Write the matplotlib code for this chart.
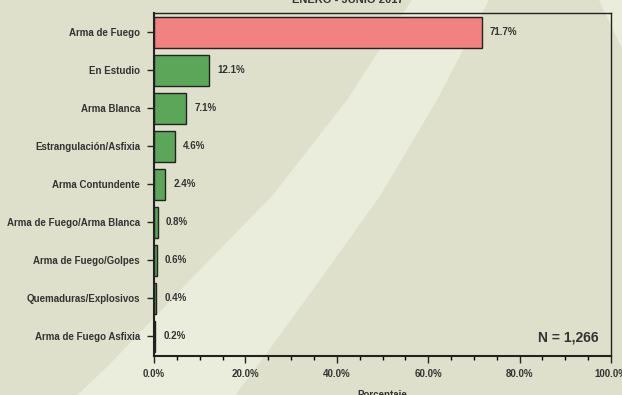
import matplotlib
matplotlib.use("Agg")
import matplotlib.pyplot as plt
from matplotlib.ticker import MultipleLocator, FuncFormatter

# data
categories = ["Arma de Fuego", "En Estudio", "Arma Blanca", "Estrangulación/Asfixia",
              "Arma Contundente", "Arma de Fuego/Arma Blanca", "Arma de Fuego/Golpes",
              "Quemaduras/Explosivos", "Arma de Fuego Asfixia"]
percent = [71.7, 12.1, 7.1, 4.6, 2.4, 0.8, 0.6, 0.4, 0.2]
bar_colors = ["#f28182"] + ["#5ca65a"] * 8
title = "ENERO - JUNIO 2017"
n_text = "N = 1,266"

plt.rcParams["font.family"] = ["Liberation Sans", "DejaVu Sans"]
plt.rcParams["font.weight"] = "bold"
text_color = "#333333"

fig = plt.figure(figsize=(6.22, 3.95), dpi=100, facecolor="#dfe0cc")

# decorative background swooshes (pixel coords of the 622x395 canvas)
bg = fig.add_axes([0, 0, 1, 1], zorder=-1)
bg.set_xlim(0, 622)
bg.set_ylim(395, 0)
bg.axis("off")
band_x = [70, 109, 190, 272, 347, 413, 490, 437, 380, 320, 258, 230]
band_y = [402, 365, 280, 196, 100, -2, -2, 100, 196, 280, 365, 402]
bg.fill(band_x, band_y, color="#eaecdc", lw=0)
bg.fill([598, 625, 625], [-2, -2, 55], color="#eaecdc", lw=0)

ax = fig.add_axes([154 / 622, 1 - 355.5 / 395, 457 / 622, (355.5 - 13.3) / 395])
ax.set_facecolor("none")

ypos = list(range(len(categories)))
ax.barh(ypos, percent, height=0.8, color=bar_colors, edgecolor="#222222", linewidth=1.0)
for y, v in zip(ypos, percent):
    ax.annotate(f"{v:.1f}%", (v, y), xytext=(6, 0), textcoords="offset points",
                va="center", ha="left", fontsize=7, fontweight="bold", color=text_color)

ax.set_xlim(0, 100)
ax.set_ylim(len(categories) - 0.5, -0.5)
ax.set_yticks(ypos)
ax.set_yticklabels(categories)
ax.xaxis.set_major_locator(MultipleLocator(20))
ax.xaxis.set_minor_locator(MultipleLocator(5))
ax.xaxis.set_major_formatter(FuncFormatter(lambda v, p: f"{v:.1f}%"))
ax.tick_params(axis="both", labelsize=7, colors="#222222", labelcolor=text_color)
ax.tick_params(axis="x", which="major", length=5, width=1, pad=5)
ax.tick_params(axis="x", which="minor", length=3, width=1)
ax.tick_params(axis="y", length=5, width=1, pad=5)
for s in ax.spines.values():
    s.set_color("#222222")
    s.set_linewidth(1.0)
ax.spines["bottom"].set_linewidth(1.5)
ax.spines["left"].set_linewidth(1.5)

ax.text(0.973, 0.054, n_text, transform=ax.transAxes, ha="right", va="center",
        fontsize=10, fontweight="bold", color=text_color)

fig.text(348 / 622, 1 - 3 / 395, title, ha="center", va="baseline",
         fontsize=8, fontweight="bold", color=text_color)
fig.text(382 / 622, 1 - 398 / 395, "Porcentaje", ha="center", va="baseline",
         fontsize=7, fontweight="bold", color=text_color)

fig.savefig("out.png", dpi=100, facecolor=fig.get_facecolor())
